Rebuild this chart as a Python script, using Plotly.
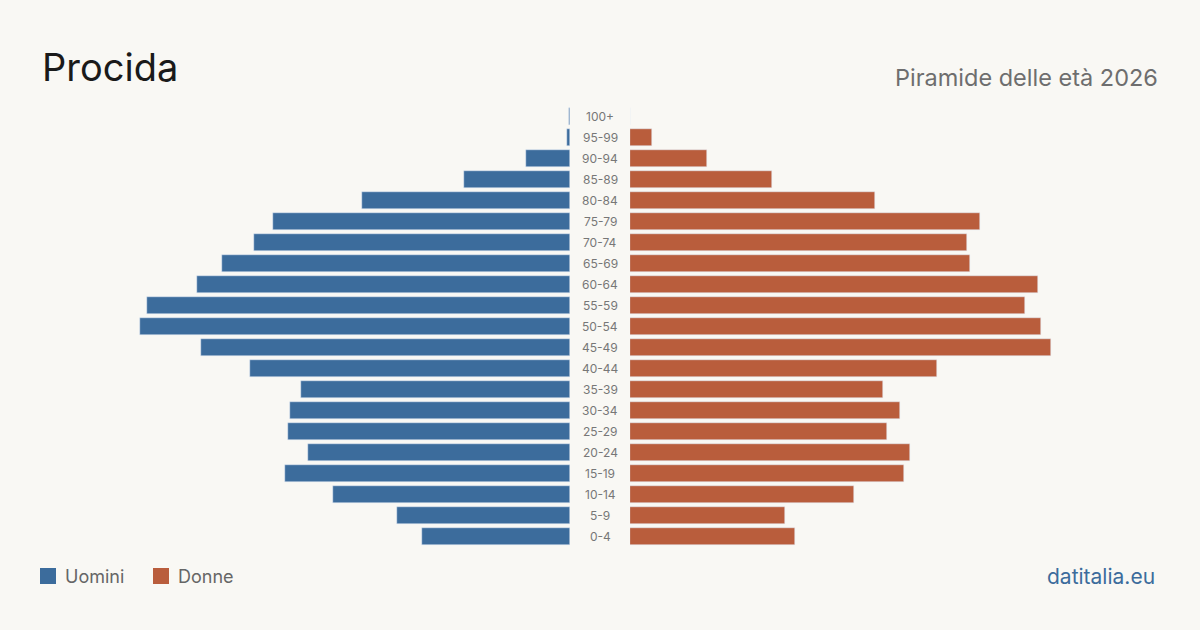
import plotly.graph_objects as go

age_groups = ["0-4", "5-9", "10-14", "15-19", "20-24", "25-29", "30-34", "35-39",
              "40-44", "45-49", "50-54", "55-59", "60-64", "65-69", "70-74", "75-79",
              "80-84", "85-89", "90-94", "95-99", "100+"]
men = [148, 173, 237, 285, 262, 282, 280, 269, 320, 369, 430, 423, 373, 348, 316,
       297, 208, 106, 44, 3, 1]
women = [165, 155, 224, 274, 280, 257, 270, 253, 307, 421, 411, 395, 408, 340, 337,
         350, 245, 142, 77, 22, 0]

BLUE = "#3c6c9c"
ORANGE = "#b95d3c"
BG = "#f9f8f4"
FONT = "Inter, Roboto, 'Noto Sans', sans-serif"

W, H = 1200, 630
MT, MB = 106, 83
PH = H - MT - MB
MAXV = 570


def py(pix):
    """pixel row (from top) -> paper y (plot area)"""
    return (H - MB - pix) / PH


fig = go.Figure()
fig.add_trace(go.Bar(y=age_groups, x=men, orientation="h", marker_color=BLUE,
                     width=0.81, name="Uomini", xaxis="x", yaxis="y",
                     hoverinfo="x+y"))
fig.add_trace(go.Bar(y=age_groups, x=women, orientation="h", marker_color=ORANGE,
                     width=0.81, name="Donne", xaxis="x2", yaxis="y",
                     hoverinfo="x+y"))

for g in age_groups:
    fig.add_annotation(x=0.5, xref="paper", y=g, yref="y", text=g, showarrow=False,
                       font=dict(family=FONT, size=12, color="#777777"),
                       xanchor="center", yanchor="middle")

# Title, subtitle, source
fig.add_annotation(x=40 / W, y=py(67), xref="paper", yref="paper", text="Procida",
                   showarrow=False, xanchor="left", yanchor="middle",
                   font=dict(family=FONT, size=38, color="#1a1a1a"))
fig.add_annotation(x=1160 / W, y=py(77), xref="paper", yref="paper",
                   text="Piramide delle età 2026", showarrow=False, xanchor="right",
                   yanchor="middle", font=dict(family=FONT, size=23.5, color="#6e6e6e"))
fig.add_annotation(x=1157 / W, y=py(576), xref="paper", yref="paper",
                   text="datitalia.eu", showarrow=False, xanchor="right",
                   yanchor="middle", font=dict(family=FONT, size=21, color=BLUE))

# Legend
for x0, color, label in [(40, BLUE, "Uomini"), (153, ORANGE, "Donne")]:
    fig.add_shape(type="rect", xref="paper", yref="paper",
                  x0=x0 / W, x1=(x0 + 16) / W, y0=py(584), y1=py(568),
                  fillcolor=color, line=dict(width=0))
    fig.add_annotation(x=(x0 + 23) / W, y=py(576), xref="paper", yref="paper",
                       text=label, showarrow=False, xanchor="left", yanchor="middle",
                       font=dict(family=FONT, size=18, color="#666666"))

fig.update_layout(
    width=W, height=H,
    margin=dict(l=0, r=0, t=MT, b=MB),
    paper_bgcolor=BG, plot_bgcolor=BG,
    showlegend=False,
    bargap=0,
    xaxis=dict(domain=[0, 570 / W], range=[MAXV, 0], visible=False, fixedrange=True),
    xaxis2=dict(domain=[630 / W, 1], range=[0, MAXV], visible=False, fixedrange=True),
    yaxis=dict(type="category", categoryorder="array", categoryarray=age_groups,
               range=[-0.5, 20.5], visible=False, fixedrange=True),
)

fig.write_html("out.html")
